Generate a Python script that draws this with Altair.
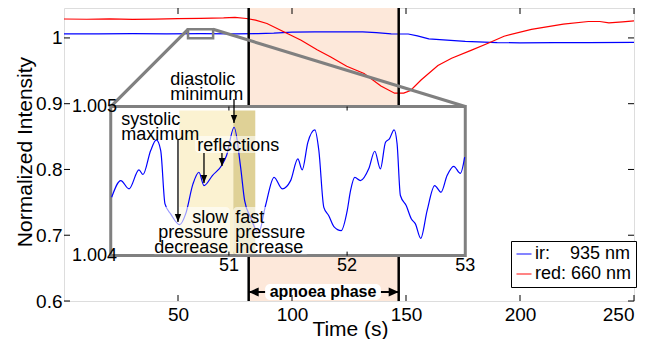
import altair as alt
import pandas as pd

FONT = "Liberation Sans"
W, H = 570, 293
X_DOMAIN = [0, 250]
Y_DOMAIN = [0.6, 1.0455]

# ---------------- main series ----------------
red_t = [0, 10, 20, 30, 40, 50, 60, 70, 75, 80, 84, 89, 96.6, 104, 111, 117, 124, 131.6,
         139, 145, 149, 152, 156.6, 164, 170, 178.5, 186, 193, 205, 219, 230, 235, 239, 245, 250]
red_v = [1.0288, 1.0284, 1.029, 1.0283, 1.0287, 1.0292, 1.0298, 1.0305, 1.0313, 1.0295, 1.027,
         1.022, 1.009, 0.9965, 0.982, 0.971, 0.957, 0.946, 0.927, 0.916, 0.916, 0.920, 0.936,
         0.958, 0.969, 0.981, 0.992, 1.0026, 1.013, 1.021, 1.025, 1.025, 1.023, 1.0245, 1.026]
ir_t = [0, 15, 30, 45, 60, 75, 85, 92, 100, 110, 120, 131, 137, 143.5, 151, 155, 160, 168,
        176, 190, 200, 215, 230, 250]
ir_v = [1.0063, 1.0061, 1.0064, 1.0062, 1.0064, 1.0063, 1.0065, 1.0072, 1.0088, 1.0092,
        1.0093, 1.0092, 1.0082, 1.0063, 1.0060, 1.003, 0.9985, 0.9968, 0.9948, 0.9928,
        0.9926, 0.9929, 0.9928, 0.9932]
series_names = ["ir:\u00a0\u00a0\u00a0\u00a0935 nm", "red: 660 nm"]
series_colors = ["#0000ff", "#ff0000"]

x_ticks = [50, 100, 150, 200, 250]
y_ticks = [0.6, 0.7, 0.8, 0.9, 1.0]

apnoea_start, apnoea_end = 81.0, 146.8
apnoea_label = "apnoea phase"
apnoea_label_pos = [113.6, 0.6137]
apnoea_label_box = [88.2, 139.0, 0.6015, 0.6258]

zoom_box = [54.4, 65.4, 0.9994, 1.0131]       # main units
inset_box = [20.5, 176.0, 0.669, 0.8957]      # main units

# ---------------- inset (zoomed ir signal) ----------------
inset_x_domain = [50, 53]
inset_y_domain = [1.004, 1.005]
inset_t = [50.008, 50.085, 50.155, 50.239, 50.273, 50.338, 50.386, 50.423, 50.459, 50.507,
           50.583, 50.634, 50.696, 50.746, 50.789, 50.860, 50.944, 50.980, 51.044, 51.099,
           51.133, 51.183, 51.251, 51.310, 51.382, 51.451, 51.522, 51.583, 51.620, 51.668,
           51.727, 51.761, 51.803, 51.845, 51.888, 51.950, 52.001, 52.029, 52.065, 52.113,
           52.183, 52.234, 52.282, 52.325, 52.358, 52.398, 52.423, 52.451, 52.500, 52.544,
           52.578, 52.623, 52.677, 52.741, 52.795, 52.846, 52.902, 52.959, 52.995]
inset_v = [1.004391, 1.004503, 1.004448, 1.004575, 1.004544, 1.004705, 1.004776, 1.004705,
           1.004347, 1.004280, 1.004208, 1.004280, 1.004481, 1.004559, 1.004470, 1.004537,
           1.004611, 1.004671, 1.004861, 1.004593, 1.004369, 1.004257, 1.004154, 1.004336,
           1.004525, 1.004448, 1.004503, 1.004649, 1.004575, 1.004760, 1.004844, 1.004705,
           1.004324, 1.004268, 1.004195, 1.004168, 1.004302, 1.004436, 1.004525, 1.004503,
           1.004582, 1.004700, 1.004582, 1.004760, 1.004783, 1.004844, 1.004750, 1.004403,
           1.004336, 1.004246, 1.004213, 1.004116, 1.004302, 1.004470, 1.004425, 1.004537,
           1.004599, 1.004552, 1.004660]
inset_x_ticks = [51, 52, 53]
inset_y_label_t = 50.053

slow_region = [50.58, 51.037, 1.004013, 1.004973]
fast_region = [51.037, 51.223, 1.004013, 1.004973]

ann_left = ["systolic\nmaximum", "diastolic\nminimum", "reflections", "fast\npressure\n\u00a0increase"]
ann_left_t = [50.089, 50.504, 50.732, 51.054]
ann_left_v = [1.0049685, 1.0052369, 1.004794, 1.0043107]
ann_right = ["slow\npressure\ndecrease"]
ann_right_t = [50.995]
ann_right_v = [1.0043107]

# white backgrounds behind annotation text: t0, t1, v0, v1
ann_bg_t0 = [50.713, 50.340, 51.035]
ann_bg_t1 = [51.449, 51.009, 51.687]
ann_bg_v0 = [1.0046875, 1.004010, 1.004010]
ann_bg_v1 = [1.0048015, 1.0043253, 1.0043253]

arrow_t = [50.569, 50.789, 50.941, 51.043]
arrow_from = [1.0047747, 1.0046875, 1.0046875, 1.0050497]
arrow_tip = [1.0042247, 1.0044863, 1.0046003, 1.0048887]


def px_x(t):
    return (t - X_DOMAIN[0]) / (X_DOMAIN[1] - X_DOMAIN[0]) * W


def px_y(v):
    return H - (v - Y_DOMAIN[0]) / (Y_DOMAIN[1] - Y_DOMAIN[0]) * H


xs = alt.Scale(domain=X_DOMAIN, nice=False, zero=False)
ys = alt.Scale(domain=Y_DOMAIN, nice=False, zero=False)
ixs = alt.Scale(domain=inset_x_domain, range=[px_x(inset_box[0]), px_x(inset_box[1])],
                nice=False, zero=False)
iys = alt.Scale(domain=inset_y_domain, range=[px_y(inset_box[2]), px_y(inset_box[3])],
                nice=False, zero=False)


def MX(f, s=xs):
    return alt.X(f, type="quantitative", scale=s, axis=None)


def MY(f, s=ys):
    return alt.Y(f, type="quantitative", scale=s, axis=None)


# ---------- main data ----------
df_main = pd.concat([
    pd.DataFrame({"t": ir_t, "v": ir_v, "series": series_names[0]}),
    pd.DataFrame({"t": red_t, "v": red_v, "series": series_names[1]}),
])

shade = alt.Chart(pd.DataFrame({"x": [apnoea_start], "x2": [apnoea_end],
                                "y": [Y_DOMAIN[0]], "y2": [Y_DOMAIN[1]]})).mark_rect(
    color="#fde8da").encode(x=MX("x"), x2="x2", y=MY("y"), y2="y2")

lines = alt.Chart(df_main).mark_line(strokeWidth=1.2).encode(
    x=alt.X("t:Q", scale=xs, axis=alt.Axis(
        values=x_ticks, title="Time (s)", domain=False, ticks=False, tickSize=0, grid=False,
        labelFont=FONT, labelFontSize=19, labelColor="black", labelPadding=4,
        titleFont=FONT, titleFontSize=21, titleFontWeight="normal", titleColor="black",
        titleBaseline="alphabetic", titleY=34, titleX=286)),
    y=alt.Y("v:Q", scale=ys, axis=alt.Axis(
        values=y_ticks, labelExpr="datum.value == 1 ? '1' : format(datum.value, '.1f')",
        title="Normalized Intensity", domain=False, ticks=False, tickSize=0, grid=False,
        labelFont=FONT, labelFontSize=19, labelColor="black", labelPadding=2,
        titleFont=FONT, titleFontSize=21, titleFontWeight="normal", titleColor="black",
        titleBaseline="alphabetic", titleX=-33, titleY=143.5)),
    color=alt.Color("series:N", sort=series_names,
                    scale=alt.Scale(domain=series_names, range=series_colors),
                    legend=alt.Legend(title=None, orient="none", legendX=447, legendY=233,
                                      strokeColor="black", fillColor="white", padding=4,
                                      labelFont=FONT, labelFontSize=18, labelColor="black",
                                      symbolType="stroke", symbolSize=225,
                                      symbolStrokeWidth=1.6, symbolOpacity=0.6,
                                      rowPadding=2, labelOffset=2)),
)

vlines = alt.Chart(pd.DataFrame({"x": [apnoea_start, apnoea_end],
                                 "y": [Y_DOMAIN[0]] * 2, "y2": [Y_DOMAIN[1]] * 2})).mark_rule(
    color="black", strokeWidth=2.5).encode(x=MX("x"), y=MY("y"), y2="y2")

ap_df = pd.DataFrame({"x": [apnoea_start], "x2": [apnoea_end],
                      "y": [apnoea_label_pos[1]]})
ap_shaft = alt.Chart(ap_df).mark_rule(color="black", strokeWidth=2.2).encode(
    x=MX("x"), x2="x2", y=MY("y"))
ap_box = alt.Chart(pd.DataFrame({"x": [apnoea_label_box[0]], "x2": [apnoea_label_box[1]],
                                 "y": [apnoea_label_box[2]], "y2": [apnoea_label_box[3]]})).mark_rect(
    fill="white", cornerRadius=5).encode(x=MX("x"), x2="x2", y=MY("y"), y2="y2")
ap_text = alt.Chart(pd.DataFrame({"x": [apnoea_label_pos[0]], "y": [apnoea_label_pos[1]],
                                  "label": [apnoea_label]})).mark_text(
    font=FONT, fontSize=16, fontWeight="bold", color="black", baseline="middle").encode(
    x=MX("x"), y=MY("y"), text="label:N")
ap_head_l = alt.Chart(pd.DataFrame({"x": [apnoea_start], "y": [apnoea_label_pos[1]]})).mark_point(
    shape="M0,0L1,-0.45L1,0.45Z", size=400, filled=True, color="black", opacity=1).encode(
    x=MX("x"), y=MY("y"))
ap_head_r = alt.Chart(pd.DataFrame({"x": [apnoea_end], "y": [apnoea_label_pos[1]]})).mark_point(
    shape="M0,0L-1,-0.45L-1,0.45Z", size=400, filled=True, color="black", opacity=1).encode(
    x=MX("x"), y=MY("y"))

zrect = alt.Chart(pd.DataFrame({"x": [zoom_box[0]], "x2": [zoom_box[1]],
                                "y": [zoom_box[2]], "y2": [zoom_box[3]]})).mark_rect(
    fillOpacity=0, stroke="#808080", strokeWidth=2.5).encode(
    x=MX("x"), x2="x2", y=MY("y"), y2="y2")

conn = alt.Chart(pd.DataFrame({
    "x": [zoom_box[0], zoom_box[1]], "y": [zoom_box[3], zoom_box[3]],
    "x2": [inset_box[0], inset_box[1]], "y2": [inset_box[3], inset_box[3]]})).mark_rule(
    color="#808080", strokeWidth=3.2).encode(x=MX("x"), y=MY("y"), x2="x2", y2="y2")

ibox = alt.Chart(pd.DataFrame({"x": [inset_box[0]], "x2": [inset_box[1]],
                               "y": [inset_box[2]], "y2": [inset_box[3]]})).mark_rect(
    fill="white", stroke="#808080", strokeWidth=3).encode(
    x=MX("x"), x2="x2", y=MY("y"), y2="y2")

# ---------- inset layers ----------
def IX(f):
    return MX(f, ixs)


def IY(f):
    return MY(f, iys)


regions = pd.DataFrame({"x": [slow_region[0], fast_region[0]], "x2": [slow_region[1], fast_region[1]],
                        "y": [slow_region[2], fast_region[2]], "y2": [slow_region[3], fast_region[3]],
                        "c": ["#fbf2d1", "#dfd196"]})
shading = alt.Chart(regions).mark_rect().encode(
    x=IX("x"), x2="x2", y=IY("y"), y2="y2", color=alt.Color("c:N", scale=None, legend=None))

icurve = alt.Chart(pd.DataFrame({"t": inset_t, "v": inset_v})).mark_line(
    color="#0000ff", strokeWidth=1.2, interpolate="monotone").encode(x=IX("t"), y=IY("v"))

bg = alt.Chart(pd.DataFrame({"x": ann_bg_t0, "x2": ann_bg_t1, "y": ann_bg_v0, "y2": ann_bg_v1})).mark_rect(
    fill="white", opacity=0.6, cornerRadius=4).encode(x=IX("x"), x2="x2", y=IY("y"), y2="y2")

txt_style = dict(font=FONT, fontSize=18, color="black", baseline="top", lineBreak="\n", lineHeight=15)
tl = alt.Chart(pd.DataFrame({"t": ann_left_t, "v": ann_left_v, "label": ann_left})).mark_text(
    align="left", **txt_style).encode(x=IX("t"), y=IY("v"), text="label:N")
tr = alt.Chart(pd.DataFrame({"t": ann_right_t, "v": ann_right_v, "label": ann_right})).mark_text(
    align="right", **txt_style).encode(x=IX("t"), y=IY("v"), text="label:N")

arr_df = pd.DataFrame({"t": arrow_t, "v": arrow_from, "v2": arrow_tip})
shafts = alt.Chart(arr_df).mark_rule(color="black", strokeWidth=1.3).encode(
    x=IX("t"), y=IY("v"), y2="v2")
heads = alt.Chart(arr_df).mark_point(
    shape="M-0.4,-1L0.4,-1L0,0Z", size=256, filled=True, color="black", opacity=1).encode(
    x=IX("t"), y=IY("v2"))

tick_len = (inset_y_domain[1] - inset_y_domain[0]) * 4 / (px_y(inset_box[2]) - px_y(inset_box[3]))
iticks = alt.Chart(pd.DataFrame({
    "t": inset_x_ticks[:2] * 2,
    "v": [inset_y_domain[0]] * 2 + [inset_y_domain[1]] * 2,
    "v2": [inset_y_domain[0] + tick_len] * 2 + [inset_y_domain[1] - tick_len] * 2})).mark_rule(
    color="black", strokeWidth=1).encode(x=IX("t"), y=IY("v"), y2="v2")

ixlab = alt.Chart(pd.DataFrame({"t": inset_x_ticks, "v": [inset_y_domain[0]] * 3,
                                "label": [str(t) for t in inset_x_ticks]})).mark_text(
    font=FONT, fontSize=18, color="black", align="center", baseline="middle", dy=10).encode(
    x=IX("t"), y=IY("v"), text="label:N")
iylab = alt.Chart(pd.DataFrame({"t": [inset_y_label_t] * 2, "v": inset_y_domain[::-1],
                                "label": ["1.005", "1.004"]})).mark_text(
    font=FONT, fontSize=18, color="black", align="right", baseline="middle").encode(
    x=IX("t"), y=IY("v"), text="label:N")

# ---------- inward main ticks ----------
xt = pd.DataFrame({"t": x_ticks})
yt = pd.DataFrame({"v": y_ticks})
tick_b = alt.Chart(xt).mark_rule(color="black", strokeWidth=1).encode(
    x=MX("t"), y=alt.value(H), y2=alt.value(H - 6))
tick_t = alt.Chart(xt).mark_rule(color="black", strokeWidth=1).encode(
    x=MX("t"), y=alt.value(0), y2=alt.value(6))
tick_l = alt.Chart(yt).mark_rule(color="black", strokeWidth=1).encode(
    y=MY("v"), x=alt.value(0), x2=alt.value(6))
tick_r = alt.Chart(yt).mark_rule(color="black", strokeWidth=1).encode(
    y=MY("v"), x=alt.value(W), x2=alt.value(W - 6))

chart = alt.layer(
    shade, lines, vlines, ap_shaft, ap_box, ap_text, ap_head_l, ap_head_r,
    tick_b, tick_t, tick_l, tick_r,
    zrect, conn, ibox, shading, icurve, bg, tl, tr, shafts, heads, iticks, ixlab, iylab,
).resolve_scale(x="independent", y="independent").properties(
    width=W, height=H,
    autosize=alt.AutoSizeParams(type="none"),
    padding={"left": 56, "top": 0, "right": 18, "bottom": 38},
).configure_view(stroke="black", strokeWidth=1.5).configure(font=FONT)

chart.save("out.html", embed_options={"renderer": "svg", "actions": False})
